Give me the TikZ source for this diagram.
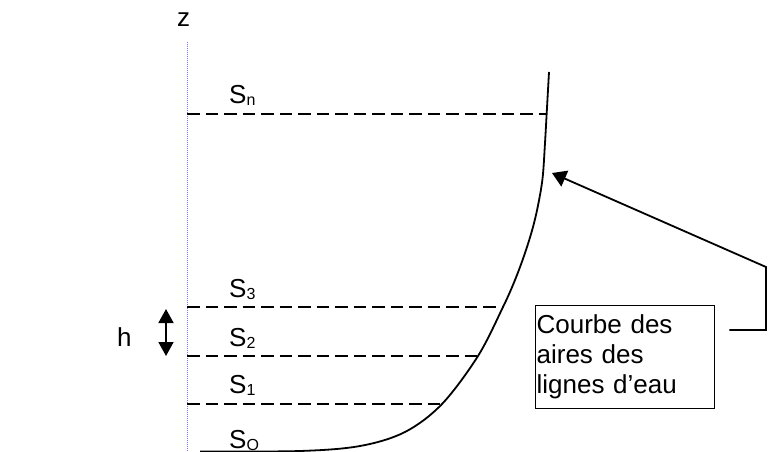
\documentclass[tikz,border=0pt]{standalone}
\usepackage{fontspec}
\setmainfont{Liberation Sans}
\usetikzlibrary{arrows.meta,calc}
\newcommand{\Ssub}[1]{S\raisebox{-2.5pt}{\fontsize{16}{16}\selectfont #1}}
\definecolor{axisblue}{RGB}{120,120,250}
\tikzset{
  lbl/.style={anchor=base west, inner sep=0pt},
  level/.style={line width=1.5pt, dash pattern=on 12.5pt off 6pt},
  curveline/.style={line width=1.8pt},
  axisline/.style={axisblue, line width=0.9pt, dash pattern=on 1pt off 1pt},
  conn/.style={line width=1.8pt, -{Triangle[length=14pt,width=17pt]}},
  harrow/.style={line width=1.8pt, {Triangle[length=14pt,width=15pt]}-{Triangle[length=14pt,width=15pt]}},
  boxnode/.style={draw, line width=1.3pt, anchor=north west, text width=177pt,
    minimum height=103pt, inner xsep=1pt, inner ysep=0pt, align=left}
}
\begin{document}
\begin{tikzpicture}[x=1pt,y=-1pt,font=\fontsize{26}{30}\selectfont]
\useasboundingbox (0,0) rectangle (768,452);
% axis
\coordinate (ztop) at (187.5,42);
\coordinate (zbot) at (187.5,452);
\draw[axisline] (ztop) -- (zbot);
\node[lbl] (zl) at (177,27) {z};
% curve points
\coordinate (c1) at (442,404);
\coordinate (c2) at (478,356);
\coordinate (c3) at (503,307);
\coordinate (cn) at (546.7,114);
\draw[curveline] plot[smooth, tension=0.55] coordinates {(200,451.5) (300,451) (360,446) (405,432) (442,404) (478,356) (503,307) (515,280) (525,253) (533,227) (538.5,203) (542.7,177) (545,143) (546.7,113) (549,72)};
% level lines
\coordinate (a1) at (187,404);
\coordinate (a2) at (187,356);
\coordinate (a3) at (187,307);
\coordinate (an) at (187,114);
\draw[level] (a1) -- (c1);
\draw[level] (a2) -- (c2);
\draw[level] (a3) -- (c3);
\draw[level] (an) -- (cn);
% labels
\node[lbl] (sn) at (229,103) {\Ssub{n}};
\node[lbl] (s3) at (229,297) {\Ssub{3}};
\node[lbl] (s2) at (229,346) {\Ssub{2}};
\node[lbl] (s1) at (229,393) {\Ssub{1}};
\node[lbl] (s0) at (229,448) {\Ssub{O}};
% h
\node[lbl] (h) at (117,346) {h};
\coordinate (ha) at (166,309);
\coordinate (hb) at (166,356);
\draw[harrow] (ha) -- (hb);
% box
\node[boxnode] (box) at (535,305) {Courbe des\\aires des\\lignes d’eau};
\coordinate (p0) at ($(box.north east)+(14,25)$);
\coordinate (p1) at (766,330);
\coordinate (p2) at (766,267);
\coordinate (tip) at (552,173);
\draw[conn] (p0) -- (p1) -- (p2) -- (tip);
\end{tikzpicture}
\end{document}
